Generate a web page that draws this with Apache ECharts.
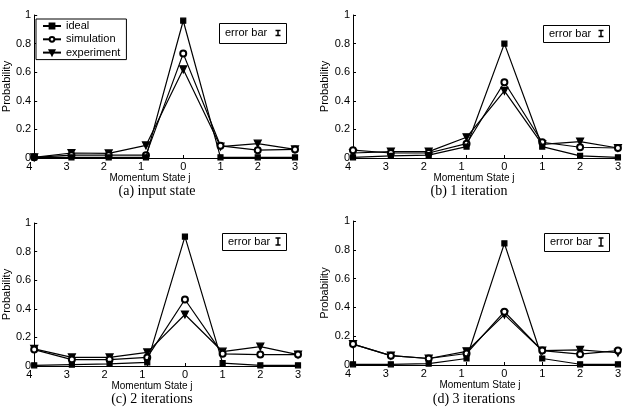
<!DOCTYPE html>
<html>
<head>
<meta charset="utf-8">
<script src="https://cdn.jsdelivr.net/npm/echarts/dist/echarts.min.js"></script>
<style>
  html, body { margin: 0; padding: 0; background: #fff; }
  #chart { width: 624px; height: 408px; }
</style>
</head>
<body>
<div id="chart"></div>
<script>
// momentum states j on the x axis
const states = ['4', '3', '2', '1', '0', '1', '2', '3'];
const yTicks = [0, 0.2, 0.4, 0.6, 0.8, 1];

// (a) input state
const idealA = [0.005, 0.005, 0.005, 0.005, 0.96, 0.005, 0.005, 0.005];
const simA   = [0.005, 0.02, 0.02, 0.02, 0.73, 0.085, 0.055, 0.06];
const expA   = [0.005, 0.035, 0.032, 0.088, 0.62, 0.08, 0.10, 0.06];
// (b) 1 iteration
const idealB = [0.005, 0.015, 0.02, 0.08, 0.80, 0.08, 0.015, 0.005];
const simB   = [0.055, 0.035, 0.035, 0.10, 0.53, 0.11, 0.075, 0.07];
const expB   = [0.035, 0.045, 0.045, 0.145, 0.47, 0.095, 0.115, 0.07];
// (c) 2 iterations
const idealC = [0.005, 0.01, 0.015, 0.025, 0.905, 0.02, 0.005, 0.005];
const simC   = [0.115, 0.045, 0.045, 0.06, 0.465, 0.085, 0.08, 0.08];
const expC   = [0.12, 0.06, 0.06, 0.095, 0.36, 0.10, 0.135, 0.08];
// (d) 3 iterations
const idealD = [0.005, 0.005, 0.01, 0.045, 0.845, 0.045, 0.005, 0.005];
const simD   = [0.145, 0.065, 0.045, 0.08, 0.37, 0.10, 0.075, 0.10];
const expD   = [0.145, 0.065, 0.045, 0.095, 0.35, 0.10, 0.105, 0.085];

const captions = ['(a) input state', '(b) 1 iteration', '(c) 2 iterations', '(d) 3 iterations'];
const seriesNames = ['ideal', 'simulation', 'experiment'];
const panelData = [[idealA, simA, expA], [idealB, simB, expB], [idealC, simC, expC], [idealD, simD, expD]];

// layout of the four panels (pixels)
const panels = [
  {left: 27,  top: 15,  width: 268, height: 143, xlab: [150, 178], cap: [157, 191], box: [219, 23, 67, 20], glyph: 5},
  {left: 353, top: 15,  width: 265, height: 143, xlab: [474, 178], cap: [469, 191], box: [543, 25, 66, 17], glyph: 6},
  {left: 28,  top: 223, width: 270, height: 143, xlab: [152, 386], cap: [152, 399], box: [222, 233, 64, 17], glyph: 7},
  {left: 353, top: 221, width: 266, height: 144, xlab: [480, 385], cap: [474, 399], box: [544, 233, 65, 18], glyph: 8}
];

const sans = 'Liberation Sans, Arial, sans-serif';
const black = '#000';

let myChart = echarts.init(document.getElementById('chart'));

let grids = [], xAxes = [], yAxes = [], series = [], graphics = [];

panels.forEach(function (p, k) {
  grids.push({left: p.left, top: p.top, width: p.width, height: p.height});
  xAxes.push({
    type: 'category',
    gridIndex: k,
    data: states,
    boundaryGap: false,
    axisLine: {lineStyle: {color: black, width: 1}},
    axisTick: {inside: true, length: 3, alignWithLabel: true, lineStyle: {color: black}},
    axisLabel: {
      color: black, fontFamily: sans, fontSize: 11, margin: 3, interval: 0,
      formatter: function (v, i) { return i < 4 ? '{l|' + v + '}' : v; },
      rich: {l: {padding: [0, 10, 0, 0], fontFamily: sans, fontSize: 11, color: black}}
    }
  });
  yAxes.push({
    type: 'value',
    gridIndex: k,
    min: 0, max: 1, interval: 0.2,
    name: 'Probability',
    nameLocation: 'middle',
    nameGap: 16,
    nameTextStyle: {color: black, fontFamily: sans, fontSize: 11},
    splitLine: {show: false},
    axisLine: {show: true, lineStyle: {color: black, width: 1}},
    axisTick: {show: true, inside: true, length: 3, lineStyle: {color: black}},
    axisLabel: {
      color: black, fontFamily: sans, fontSize: 11, margin: 3,
      formatter: function (v) { return (v === 0 || v === 1) ? String(v) : v.toFixed(1); }
    }
  });

  const styles = [
    {symbol: 'rect', symbolSize: 5, rotate: 0},
    {symbol: 'emptyCircle', symbolSize: 6, rotate: 0},
    {symbol: 'triangle', symbolSize: 7, rotate: 180}
  ];
  panelData[k].forEach(function (vals, s) {
    series.push({
      name: seriesNames[s],
      type: 'line',
      xAxisIndex: k,
      yAxisIndex: k,
      data: vals,
      symbol: styles[s].symbol,
      symbolSize: styles[s].symbolSize,
      symbolRotate: styles[s].rotate,
      showAllSymbol: true,
      lineStyle: {color: black, width: 1.2},
      itemStyle: {color: black, borderColor: black, borderWidth: 1.2},
      z: 3 - s
    });
  });

  // x axis label and caption
  graphics.push({
    type: 'text', x: p.xlab[0], y: p.xlab[1],
    style: {text: 'Momentum State j', fill: black, font: '10px "Liberation Sans Narrow", ' + sans, textAlign: 'center', textVerticalAlign: 'middle'}
  });
  graphics.push({
    type: 'text', x: p.cap[0], y: p.cap[1],
    style: {text: captions[k], fill: black, font: '14px "Liberation Serif", serif', textAlign: 'center', textVerticalAlign: 'middle'}
  });

  // error bar key box
  const b = p.box;
  const cy = b[1] + b[3] / 2;
  const gx = b[0] + b[2] - 8;
  const h = p.glyph / 2;
  graphics.push({type: 'rect', shape: {x: b[0] + 0.5, y: b[1] + 0.5, width: b[2], height: b[3]}, style: {fill: '#fff', stroke: black, lineWidth: 1}});
  graphics.push({type: 'text', x: b[0] + 6, y: cy, style: {text: 'error bar', fill: black, font: '11px ' + sans, textVerticalAlign: 'middle'}});
  graphics.push({type: 'line', shape: {x1: gx, y1: cy - h, x2: gx, y2: cy + h}, style: {stroke: black, lineWidth: 1.5}});
  graphics.push({type: 'line', shape: {x1: gx - 2.5, y1: cy - h, x2: gx + 2.5, y2: cy - h}, style: {stroke: black, lineWidth: 1.5}});
  graphics.push({type: 'line', shape: {x1: gx - 2.5, y1: cy + h, x2: gx + 2.5, y2: cy + h}, style: {stroke: black, lineWidth: 1.5}});
});

let option = {
  animation: false,
  backgroundColor: '#fff',
  grid: grids,
  xAxis: xAxes,
  yAxis: yAxes,
  legend: {
    data: seriesNames,
    orient: 'vertical',
    left: 36,
    top: 19,
    padding: [1, 6, 1, 6],
    itemWidth: 18,
    itemHeight: 6,
    itemGap: 1.3,
    borderColor: black,
    borderWidth: 1,
    backgroundColor: '#fff',
    selectedMode: false,
    textStyle: {color: black, fontFamily: sans, fontSize: 11, lineHeight: 12}
  },
  series: series,
  graphic: graphics
};

myChart.setOption(option);
</script>
</body>
</html>
